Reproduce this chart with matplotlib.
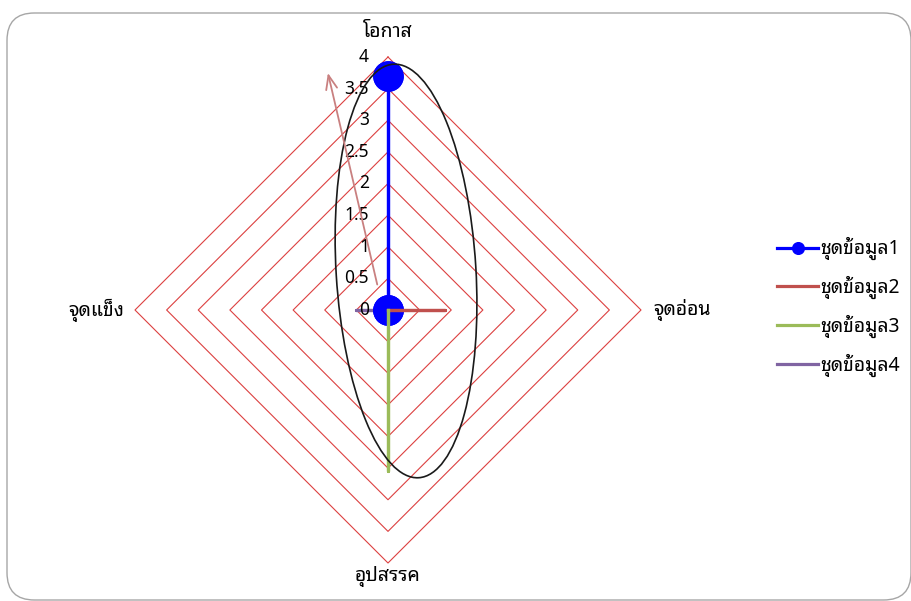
import numpy as np
import matplotlib
matplotlib.use('Agg')
import matplotlib.pyplot as plt
from matplotlib.patches import Ellipse, FancyBboxPatch

plt.rcParams['font.family'] = ['Noto Sans Thai Looped', 'DejaVu Sans']

# radar axes, clockwise from the top
axis_labels = ['โอกาส', 'จุดอ่อน', 'อุปสรรค', 'จุดแข็ง']
series_names = ['ชุดข้อมูล1', 'ชุดข้อมูล2', 'ชุดข้อมูล3', 'ชุดข้อมูล4']
s1 = [3.7, 0, 0, 0]
s2 = [0, 0.9, 0, 0]
s3 = [0, 0, 2.55, 0]
s4 = [0, 0, 0, 0.5]
rings = [0.5, 1, 1.5, 2, 2.5, 3, 3.5, 4]
tick_vals = [0, 0.5, 1, 1.5, 2, 2.5, 3, 3.5, 4]

theta = np.arange(4) * np.pi / 2


def to_xy(vals):
    v = np.asarray(vals, dtype=float)
    x = v * np.sin(theta)
    y = v * np.cos(theta)
    return np.append(x, x[0]), np.append(y, y[0])


fig = plt.figure(figsize=(9.12, 6.01), dpi=100)
ax = fig.add_axes([0, 0, 1, 1])
ax.set_xlim(-388 / 63.25, 524 / 63.25)
ax.set_ylim(-291 / 63.25, 310 / 63.25)
ax.axis('off')

# chart area border
fig.patches.append(FancyBboxPatch((7 / 912, 1 / 601), 904 / 912, 587 / 601,
                                  boxstyle='round,pad=0,rounding_size=0.03',
                                  transform=fig.transFigure, fill=False,
                                  edgecolor='#a6a6a6', lw=1.0,
                                  mutation_aspect=912 / 601))

# diamond grid
for r in rings:
    gx, gy = to_xy([r] * 4)
    ax.plot(gx, gy, color='#dc4040', lw=0.8, zorder=1)

# value labels on the vertical axis
for v in tick_vals:
    ax.text(-0.30, v, '%g' % v, ha='right', va='center', fontsize=12.5,
            color='#000000', zorder=6)

# axis category labels
offsets = [(0, 18, 'center', 'center'), (9, 0, 'left', 'center'),
           (0, -10, 'center', 'center'), (-8, 0, 'right', 'center')]
for lab, t, (dx, dy, ha, va) in zip(axis_labels, theta, offsets):
    ax.annotate(lab, (4 * np.sin(t), 4 * np.cos(t)), xytext=(dx, dy),
                textcoords='offset points', ha=ha, va=va, fontsize=14)

# series
x, y = to_xy(s4)
ax.plot(x, y, color='#8064a2', lw=2.3, zorder=3, label=series_names[3])
x, y = to_xy(s1)
ax.plot(x, y, color='#0000ff', lw=2.3, marker='o', markersize=21,
        zorder=4, label=series_names[0])
x, y = to_xy(s2)
ax.plot(x, y, color='#c0504d', lw=2.3, zorder=5, label=series_names[1])
x, y = to_xy(s3)
ax.plot(x, y, color='#9bbb59', lw=2.3, zorder=5, label=series_names[2])

# drawn shapes: ellipse and arrow
ax.add_patch(Ellipse((0.285, 0.617), 2.21, 6.55, angle=3.5, fill=False,
                     edgecolor='#1a1a1a', lw=1.2, zorder=7))
ax.annotate('', xy=(-0.96, 3.79), xytext=(-0.16, 0.36),
            arrowprops=dict(arrowstyle='->,head_length=1.0,head_width=0.4',
                            color='#c98080', lw=1.3), zorder=7)

# legend
h, l = ax.get_legend_handles_labels()
order = [1, 2, 3, 0]
leg = fig.legend([h[i] for i in order], [l[i] for i in order],
                 loc='center left', bbox_to_anchor=(760 / 912, 294 / 601),
                 frameon=False, fontsize=14, handlelength=2.1,
                 handletextpad=0.1, labelspacing=0.8, markerscale=0.4)

fig.savefig('out.png', dpi=100)
